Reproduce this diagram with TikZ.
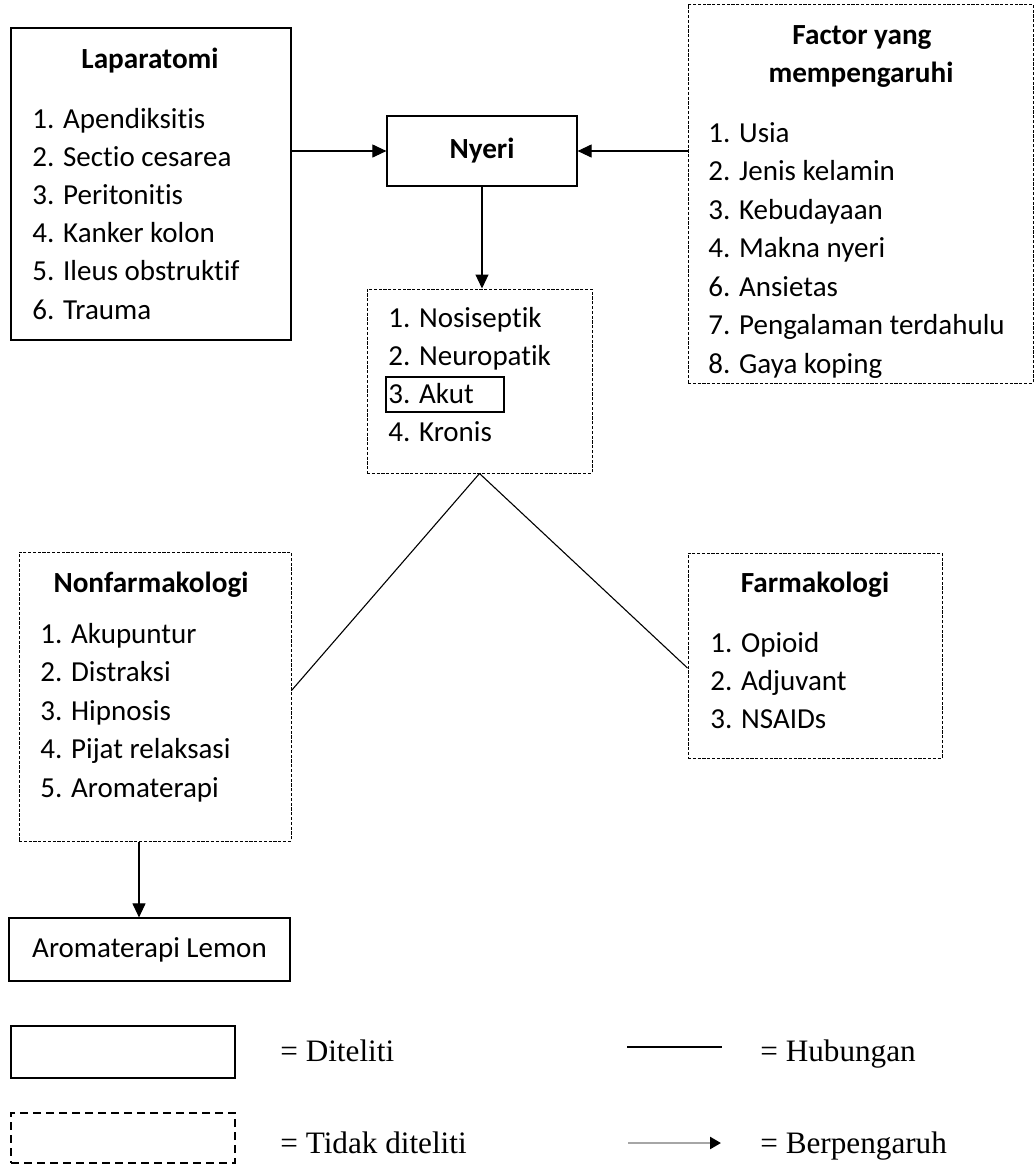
\documentclass[tikz,border=0pt]{standalone}
\usepackage{fontspec}
\setmainfont{Carlito}[Ligatures={TeX,NoCommon}]
\newfontfamily\legendfont{Liberation Serif}
\usetikzlibrary{arrows.meta,calc,positioning}
\tikzset{
    %Define standard arrow tip
    >={Triangle[length=7pt,width=6.5pt]},
    box/.style={draw,line width=0.6pt,inner sep=0pt},
    dbox/.style={draw,line width=0.5pt,dash pattern=on 1.6pt off 0.8pt,inner sep=0pt},
    listitem/.style={anchor=base west,inner sep=0pt,font=\fontsize{14.5}{17}\selectfont},
    boxtitle/.style={anchor=base,inner sep=0pt,font=\fontsize{14.6}{17}\selectfont\bfseries},
    legtext/.style={anchor=base west,inner sep=0pt,font=\legendfont\fontsize{15.6}{18}\selectfont},
    link/.style={line width=0.55pt}
}

\begin{document}
\begin{tikzpicture}[x=0.5pt,y=-0.5pt]
    \useasboundingbox (0,0) rectangle (1035,1164);
    % boxes
    \node[box,minimum width=140pt,minimum height=156pt] (lap) at (151,184) {};
    \node[box,minimum width=95pt,minimum height=35pt,font=\fontsize{14.6}{17}\selectfont\bfseries] (nyeri) at (482,151) {Nyeri};
    \node[dbox,minimum width=172.5pt,minimum height=189.5pt] (factor) at (860.5,193.5) {};
    \node[dbox,minimum width=112.5pt,minimum height=92pt] (jenis) at (479.5,381) {};
    \node[draw,line width=1pt,minimum width=59pt,minimum height=17.5pt,inner sep=0pt] (akut) at (445,394.5) {};
    \node[dbox,minimum width=136pt,minimum height=144.5pt] (nonfarm) at (155,696.5) {};
    \node[dbox,minimum width=127pt,minimum height=102.5pt] (farm) at (815,655.5) {};
    \node[box,minimum width=140.5pt,minimum height=31.5pt,font=\fontsize{14.5}{17}\selectfont] (lemon) at (149.5,949.5) {Aromaterapi Lemon};
    % titles
    \node[boxtitle] (laptitle) at (150,68) {Laparatomi};
    \node[boxtitle] (factortitle) at (862,44) {Factor yang};
    \node[boxtitle] (factortitleb) at (861,82) {mempengaruhi};
    \node[boxtitle] (nonfarmtitle) at (151,592) {Nonfarmakologi};
    \node[boxtitle] (farmtitle) at (815,592) {Farmakologi};
    % lists
    \foreach \t [count=\i] in {1. Apendiksitis,2. Sectio cesarea,3. Peritonitis,4. Kanker kolon,5. Ileus obstruktif,6. Trauma}{
        \node[listitem] (lap\i) at (32,{128+38.2*(\i-1)}) {\t};
    }
    \foreach \t [count=\i] in {1. Usia,2. Jenis kelamin,3. Kebudayaan,4. Makna nyeri,6. Ansietas,7. Pengalaman terdahulu,8. Gaya koping}{
        \node[listitem] (factor\i) at (708,{142+38.5*(\i-1)}) {\t};
    }
    \foreach \t [count=\i] in {1. Nosiseptik,2. Neuropatik,3. Akut,4. Kronis}{
        \node[listitem] (jenis\i) at (388,{327+38.3*(\i-1)}) {\t};
    }
    \foreach \t [count=\i] in {1. Akupuntur,2. Distraksi,3. Hipnosis,4. Pijat relaksasi,5. Aromaterapi}{
        \node[listitem] (nonfarm\i) at (40,{643+38.5*(\i-1)}) {\t};
    }
    \foreach \t [count=\i] in {1. Opioid,2. Adjuvant,3. NSAIDs}{
        \node[listitem] (farm\i) at (710,{652+38*(\i-1)}) {\t};
    }
    % connectors
    \draw[->,link] (nyeri.west -| lap.east) -- (nyeri.west);
    \draw[->,link] (nyeri.east -| factor.west) -- (nyeri.east);
    \draw[->,link] (nyeri.south) -- (nyeri.south |- jenis.north);
    \draw[link] (jenis.south) -- ($(nonfarm.east)+(0,-6)$);
    \draw[link] (jenis.south) -- ($(farm.west)+(0,12.5)$);
    \coordinate (drop) at ($(nonfarm.south)+(-16,0)$);
    \draw[->,link] (drop) -- (drop |- lemon.north);
    % legend
    \node[draw,line width=1pt,minimum width=112pt,minimum height=26pt,inner sep=0pt] (legsolid) at (123,1052) {};
    \node[draw,line width=0.8pt,dash pattern=on 4pt off 2.5pt,minimum width=112pt,minimum height=25pt,inner sep=0pt] (legdash) at (123,1138) {};
    \node[legtext] (diteliti) at (280,1061) {= Diteliti};
    \node[legtext] (tidak) at (280,1153) {= Tidak diteliti};
    \coordinate (hubA) at (627,1047);
    \coordinate (hubB) at (722,1047);
    \draw[link] (hubA) -- (hubB);
    \node[legtext] (hub) at (760,1061) {= Hubungan};
    \coordinate (penA) at (628,1143);
    \coordinate (penB) at (721,1143);
    \draw[line width=1.2pt,gray!70,-{Triangle[length=5.5pt,width=6pt,color=black]}] (penA) -- (penB);
    \node[legtext] (pen) at (760,1153) {= Berpengaruh};
\end{tikzpicture}
\end{document}
